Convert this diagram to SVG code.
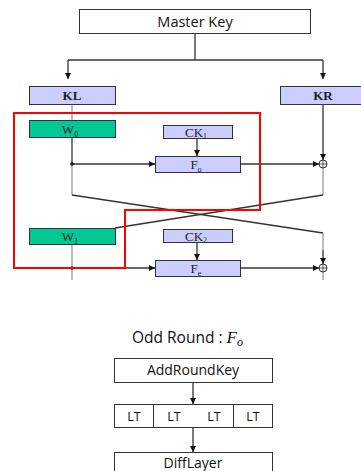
<svg xmlns="http://www.w3.org/2000/svg" width="361" height="471" viewBox="0 0 361 471">
<defs>
<marker id="ah" viewBox="0 0 6 6" refX="6" refY="3" markerWidth="6" markerHeight="6" orient="auto" markerUnits="userSpaceOnUse">
<path d="M0,0 L6,3 L0,6 z" fill="#111"/>
</marker>
<style>
.box{fill:#fff;stroke:#333;stroke-width:1}
.lav{fill:#ccccff;stroke:#333;stroke-width:1}
.grn{fill:#00c896;stroke:#333;stroke-width:1}
.ln{fill:none;stroke:#333;stroke-width:1.3}
.gl{fill:none;stroke:#999;stroke-width:1.3}
.sans{font-family:"Open Sans","Liberation Sans",sans-serif;fill:#111}
.ser{font-family:"Liberation Serif","DejaVu Serif",serif;fill:#222;font-size:13px}
.sub{font-size:8px}
</style>
</defs>
<rect width="361" height="471" fill="#fff"/>

<g id="connectors">
<polyline class="ln" points="195,33 195,60"/>
<polyline class="ln" points="68,60 323,60"/>
<polyline class="ln" points="68,60 68,79" marker-end="url(#ah)"/>
<polyline class="ln" points="323,60 323,79" marker-end="url(#ah)"/>
<line class="gl" x1="72" y1="104" x2="72" y2="120"/>
<line class="ln" x1="72" y1="137" x2="72" y2="164"/>
<line class="gl" x1="72" y1="164" x2="72" y2="195"/>
<line class="ln" x1="72" y1="164" x2="155" y2="164" marker-end="url(#ah)"/>
<circle cx="72" cy="164" r="1.8" fill="#111"/>
<line class="ln" x1="197" y1="138" x2="197" y2="156" marker-end="url(#ah)"/>
<line class="ln" x1="240" y1="164" x2="319" y2="164" marker-end="url(#ah)"/>
<line class="ln" x1="323" y1="104" x2="323" y2="160" marker-end="url(#ah)"/>
<line class="gl" x1="323" y1="168" x2="323" y2="195"/>
<polyline class="ln" points="72,195 323,233" stroke-width="0.8"/>
<polyline class="ln" points="323,195 115,228" stroke-width="0.8"/>
<line class="gl" x1="323" y1="233" x2="323" y2="250"/>
<line class="ln" x1="323" y1="250" x2="323" y2="264" marker-end="url(#ah)"/>
<line class="gl" x1="72" y1="244" x2="72" y2="280"/>
<line class="ln" x1="72" y1="268" x2="155" y2="268" marker-end="url(#ah)"/>
<circle cx="72" cy="268" r="1.8" fill="#111"/>
<line class="ln" x1="197" y1="242" x2="197" y2="260" marker-end="url(#ah)"/>
<line class="ln" x1="240" y1="268" x2="319" y2="268" marker-end="url(#ah)"/>
<line class="gl" x1="323" y1="272" x2="323" y2="280"/>
<line class="ln" x1="193" y1="382" x2="193" y2="404" marker-end="url(#ah)"/>
<line class="ln" x1="193" y1="427" x2="193" y2="452" marker-end="url(#ah)"/>
</g>

<g id="master-key"><rect class="box" x="79.5" y="9.5" width="231" height="24"/><text class="sans" x="195" y="26.5" font-size="14.5" text-anchor="middle">Master Key</text></g>
<g id="kl"><rect class="lav" x="29.5" y="86.5" width="86" height="18"/><text class="ser" x="72" y="100" text-anchor="middle" font-weight="bold">KL</text></g>
<g id="kr"><rect class="lav" x="280.5" y="86.5" width="82" height="18"/><text class="ser" x="323" y="100" text-anchor="middle" font-weight="bold">KR</text></g>

<g id="w0"><rect class="grn" x="29.5" y="120.5" width="86" height="17"/><text class="ser" x="70" y="133.5" text-anchor="middle">W<tspan class="sub" dy="3">0</tspan></text></g>
<g id="ck1"><rect class="lav" x="163.5" y="125.5" width="69" height="13"/><text class="ser" x="196" y="136.5" text-anchor="middle">CK<tspan class="sub" dy="2">1</tspan></text></g>
<g id="fo"><rect class="lav" x="155.5" y="156.5" width="85" height="16"/><text class="ser" x="196" y="169" text-anchor="middle">F<tspan class="sub" dy="3">o</tspan></text></g>
<g id="xor1"><circle cx="323" cy="164" r="4" fill="#fff" stroke="#333"/><path d="M319,164 H327 M323,160 V168" stroke="#333" stroke-width="0.8"/></g>

<g id="w1"><rect class="grn" x="29.5" y="228.5" width="86" height="16"/><text class="ser" x="70" y="241" text-anchor="middle">W<tspan class="sub" dy="3">1</tspan></text></g>
<g id="ck2"><rect class="lav" x="163.5" y="229.5" width="69" height="13"/><text class="ser" x="196" y="240.5" text-anchor="middle">CK<tspan class="sub" dy="2">2</tspan></text></g>
<g id="fe"><rect class="lav" x="155.5" y="260.5" width="85" height="16"/><text class="ser" x="196" y="273" text-anchor="middle">F<tspan class="sub" dy="3">e</tspan></text></g>
<g id="xor2"><circle cx="323" cy="268" r="4" fill="#fff" stroke="#333"/><path d="M319,268 H327 M323,264 V272" stroke="#333" stroke-width="0.8"/></g>

<g id="highlight"><polygon points="14,113 260,113 260,210 125,210 125,268 14,268" fill="none" stroke="#ff0000" stroke-width="2"/></g>

<g id="title"><text class="sans" x="132" y="343" font-size="15.5">Odd Round : <tspan font-family="'Liberation Serif',serif" font-style="italic" font-size="17">F</tspan><tspan font-family="'Liberation Serif',serif" font-style="italic" font-size="12" dy="3">o</tspan></text></g>
<g id="addroundkey"><rect class="box" x="114.5" y="358.5" width="158" height="24"/><text class="sans" x="193" y="375" font-size="14" text-anchor="middle">AddRoundKey</text></g>
<g id="lt-row">
<rect class="box" x="114.5" y="404.5" width="158" height="23"/>
<line x1="153.5" y1="404.5" x2="153.5" y2="427.5" stroke="#333"/>
<line x1="233.5" y1="404.5" x2="233.5" y2="427.5" stroke="#333"/>
<text class="sans" font-size="12.5" text-anchor="middle"><tspan x="134" y="420.5">LT</tspan><tspan x="174" y="420.5">LT</tspan><tspan x="214" y="420.5">LT</tspan><tspan x="253" y="420.5">LT</tspan></text>
</g>
<g id="difflayer"><rect class="box" x="114.5" y="452.5" width="158" height="30"/><text class="sans" x="193" y="468" font-size="14" text-anchor="middle">DiffLayer</text></g>
</svg>
